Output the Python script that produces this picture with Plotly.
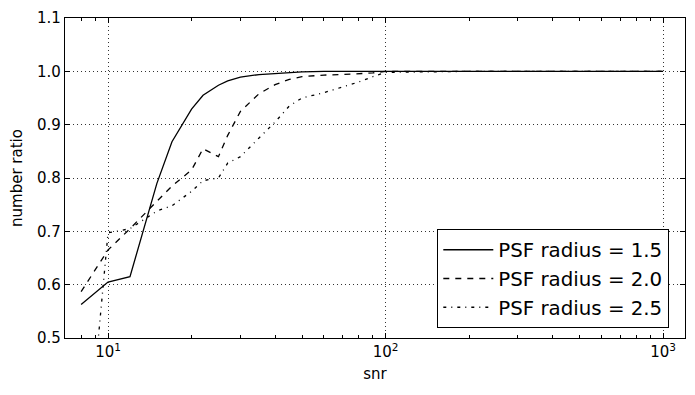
import plotly.graph_objects as go

# snr grid
snr = [8, 10, 12, 15, 17, 20, 22, 25, 27, 30, 35, 40, 45, 50, 60, 70, 80, 90, 100, 200, 300, 500, 1000]

ratio_r15 = [0.563, 0.605, 0.615, 0.790, 0.868, 0.929, 0.955, 0.974, 0.982, 0.989, 0.994, 0.996, 0.998, 0.999,
             1.0, 1.0, 1.0, 1.0, 1.0, 1.0, 1.0, 1.0, 1.0]
ratio_r20 = [0.587, 0.665, 0.705, 0.755, 0.785, 0.815, 0.855, 0.840, 0.880, 0.925, 0.958, 0.975, 0.985, 0.990,
             0.993, 0.994, 0.996, 0.997, 1.0, 1.0, 1.0, 1.0, 1.0]
ratio_r25 = [0.15, 0.697, 0.705, 0.738, 0.748, 0.775, 0.795, 0.800, 0.828, 0.840, 0.875, 0.905, 0.935, 0.950,
             0.960, 0.970, 0.980, 0.990, 0.998, 1.0, 1.0, 1.0, 1.0]

labels = ['PSF radius = 1.5', 'PSF radius = 2.0', 'PSF radius = 2.5']
dashes = ['solid', '6px,6px', '3px,5px,1px,5px']

fig = go.Figure()
for i, (vals, name, dash) in enumerate(zip([ratio_r15, ratio_r20, ratio_r25], labels, dashes)):
    fig.add_trace(go.Scatter(x=snr, y=vals, mode='lines', name=name, legendgroup=str(i),
                             line=dict(color='black', width=1.3, dash=dash)))

minor_x = [v * 10 ** e for e in range(0, 4) for v in range(2, 10)]

axis_common = dict(showline=True, linecolor='black', linewidth=1.3, mirror='ticks',
                   ticks='inside', ticklen=5, tickcolor='black', tickwidth=1,
                   showgrid=True, gridcolor='#333', griddash='1px,3px', gridwidth=1,
                   zeroline=False, automargin=False, tickfont=dict(size=15, color='black'))

fig.update_xaxes(type='log', range=[0.845, 3.079],
                 tickvals=[10, 100, 1000],
                 ticktext=['10<sup>1</sup>', '10<sup>2</sup>', '10<sup>3</sup>'],
                 minor=dict(tickvals=minor_x, ticks='inside', ticklen=3, tickcolor='black', showgrid=False),
                 title=dict(text='snr', font=dict(size=15, color='black'), standoff=8),
                 **axis_common)
fig.update_yaxes(range=[0.5, 1.1], tickvals=[0.5, 0.6, 0.7, 0.8, 0.9, 1.0, 1.1], tickformat='.1f',
                 title=dict(text='number ratio', font=dict(size=15, color='black'), standoff=10),
                 **axis_common)

# page body adds an 8px offset, so the figure is drawn 8px smaller
fig.update_layout(
    width=687, height=387,
    margin=dict(l=57, r=10, t=10, b=57),
    paper_bgcolor='white', plot_bgcolor='white',
    font=dict(family='DejaVu Sans', color='black'),
    legend=dict(x=0.6, y=0.031, xanchor='left', yanchor='bottom',
                bgcolor='white', bordercolor='black', borderwidth=1.3,
                font=dict(size=19.8), itemwidth=50, tracegroupgap=0, traceorder='grouped'),
)

fig.write_html("out.html")
